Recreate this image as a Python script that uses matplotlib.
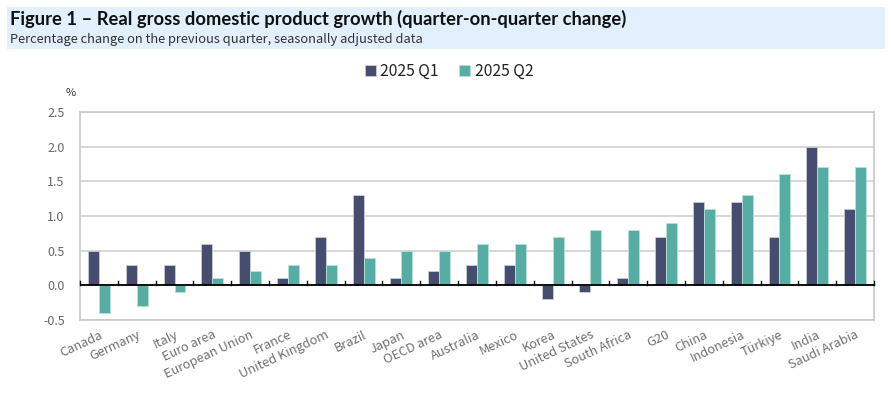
import matplotlib
matplotlib.use("Agg")
import matplotlib.pyplot as plt
import numpy as np
from matplotlib.patches import Rectangle

categories = ["Canada", "Germany", "Italy", "Euro area", "European Union", "France",
              "United Kingdom", "Brazil", "Japan", "OECD area", "Australia", "Mexico",
              "Korea", "United States", "South Africa", "G20", "China", "Indonesia",
              "Türkiye", "India", "Saudi Arabia"]
q1 = [0.5, 0.3, 0.3, 0.6, 0.5, 0.1, 0.7, 1.3, 0.1, 0.2, 0.3, 0.3,
      -0.2, -0.1, 0.1, 0.7, 1.2, 1.2, 0.7, 2.0, 1.1]
q2 = [-0.4, -0.3, -0.1, 0.1, 0.2, 0.3, 0.3, 0.4, 0.5, 0.5, 0.6, 0.6,
      0.7, 0.8, 0.8, 0.9, 1.1, 1.3, 1.6, 1.7, 1.7]
series_names = ["2025 Q1", "2025 Q2"]
yticks = [-0.5, 0.0, 0.5, 1.0, 1.5, 2.0, 2.5]

plt.rcParams['font.family'] = ['Noto Sans CJK JP', 'DejaVu Sans']

W, H = 891, 393
fig = plt.figure(figsize=(W / 100, H / 100), dpi=100)

# header band
fig.patches.append(Rectangle((7 / W, 1 - 49 / H), 878 / W, 42 / H,
                             transform=fig.transFigure, facecolor="#E1F0FC",
                             edgecolor="none", zorder=0))
fig.text(10 / W, 1 - 19 / H, "Figure 1 – Real gross domestic product growth (quarter-on-quarter change)",
         fontsize=13.2, fontweight="bold", family=['Lato', 'DejaVu Sans'],
         color="#111111", va="center", ha="left")
fig.text(10 / W, 1 - 39 / H, "Percentage change on the previous quarter, seasonally adjusted data",
         fontsize=9.3, color="#333333", va="center", ha="left")

left, right, top, bottom = 80, 874, 112, 320
ax = fig.add_axes([left / W, 1 - bottom / H, (right - left) / W, (bottom - top) / H])

x = np.arange(len(categories))
bw = 0.29
c1, c2 = "#474D6E", "#55ADA3"
ax.bar(x - bw / 2, q1, bw, color=c1, edgecolor="#C8CCD8", linewidth=0.6, label=series_names[0], zorder=3)
ax.bar(x + bw / 2, q2, bw, color=c2, edgecolor="#B8E0DA", linewidth=0.6, label=series_names[1], zorder=3)

ax.set_xlim(-0.5, len(categories) - 0.5)
ax.set_ylim(-0.5, 2.5)
ax.set_yticks(yticks)
ax.set_yticklabels([f"{v:.1f}" for v in yticks], fontsize=9, color="#666666")
ax.tick_params(axis="y", length=0, pad=11)
ax.yaxis.grid(True, color="#D0D0D0", linewidth=1.2, zorder=0)
ax.set_axisbelow(True)
for s in ax.spines.values():
    s.set_color("#C8C8C8")
    s.set_linewidth(1.2)

# zero line with tick marks at category boundaries
ax.axhline(0, color="black", linewidth=1.3, zorder=4)
for b in np.arange(-0.5, len(categories) + 0.5, 1.0):
    ax.plot([b, b], [0, 0.06], color="black", linewidth=1.0, zorder=4, clip_on=False)

ax.set_xticks(x)
ax.set_xticklabels(categories, rotation=25, ha="right", va="top", rotation_mode="anchor",
                   fontsize=9.2, color="#707070")
ax.tick_params(axis="x", length=0, pad=6)

fig.text(71 / W, 1 - 93 / H, "%", fontsize=8, color="#333333", ha="center", va="center")

leg = fig.legend(loc="center", bbox_to_anchor=(449 / W, 1 - 71 / H), ncol=2, frameon=False,
                 fontsize=11.3, handlelength=0.7, handleheight=0.7, handletextpad=0.3,
                 columnspacing=1.3, labelcolor="#222222")

fig.savefig("out.png", dpi=100)
